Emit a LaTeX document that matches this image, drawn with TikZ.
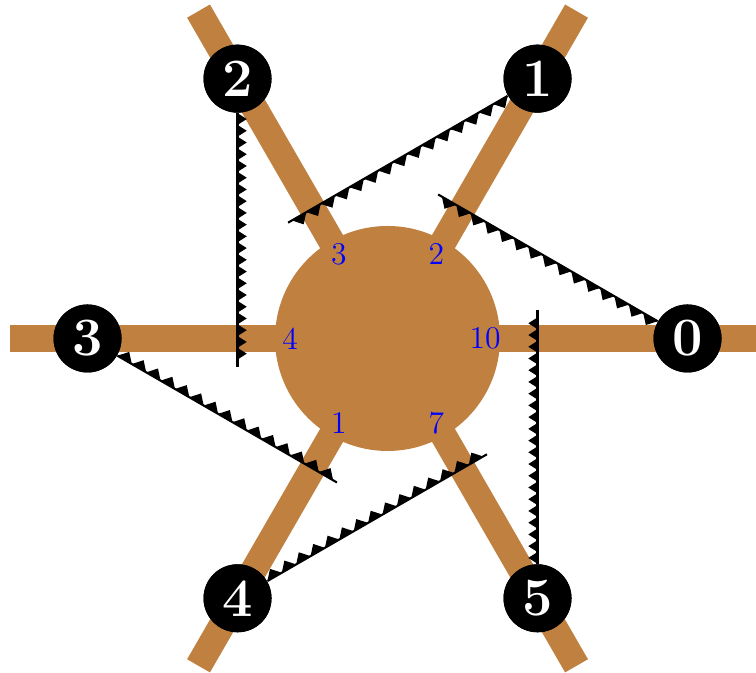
\documentclass[tikz,border=0pt]{standalone}
\usetikzlibrary{decorations}
\pgfdeclaredecoration{toothrow}{initial}{
  \state{initial}[width=\pgfdecorationsegmentlength]{
    \pgfpathlineto{\pgfpoint{0.5\pgfdecorationsegmentlength}{\pgfdecorationsegmentamplitude}}
    \pgfpathlineto{\pgfpoint{\pgfdecorationsegmentlength}{0pt}}
  }
  \state{final}{\pgfpathlineto{\pgfpointdecoratedpathlast}}
}
\begin{document}
\begin{tikzpicture}
\tikzset{
  spoke/.style={draw=brown, line width=10pt},
  hub/.style={circle, fill=brown, minimum size=3cm, inner sep=0pt},
  poslabel/.style={text=blue, font=\large, inner sep=0pt},
  station/.style={circle, fill=black, text=white, minimum size=25.8pt, inner sep=0pt,
    font=\fontsize{20.5}{24}\selectfont\bfseries},
  sawline/.style={draw=black, line width=0.8pt},
  sawteeth/.style={fill=black, decorate,
    decoration={toothrow, segment length=#1, amplitude=3.5pt}},
}
\useasboundingbox (-5.167,-4.46) rectangle (4.913,4.513);
\clip (-5.167,-4.46) rectangle (4.913,4.513);
% hub and spokes
\node[hub] (hub) at (0,0) {};
\foreach \i in {0,...,5}{
  \coordinate (s\i) at (60*\i:5.04);
  \draw[spoke] (hub.center) -- (s\i);
}
% labels inside hub
\node[poslabel] (l0) at (0:1.3) {10};
\node[poslabel] (l1) at (60:1.3) {2};
\node[poslabel] (l2) at (120:1.3) {3};
\node[poslabel] (l3) at (180:1.3) {4};
\node[poslabel] (l4) at (240:1.3) {1};
\node[poslabel] (l5) at (300:1.3) {7};
% stations
\foreach \i in {0,...,5}{
  \node[station] (n\i) at (60*\i:4) {\i};
  \path (n\i.center) ++(60*\i+150:3.84) coordinate (e\i);
}
% toothed lines
\foreach \i/\sl in {0/6.3pt,1/6.3pt,2/4.45pt,3/6.3pt,4/6.3pt,5/4.45pt}{
  \draw[sawline] (n\i) -- (e\i);
  \path[sawteeth=\sl] (n\i) -- (e\i);
}
% stations on top
\foreach \i in {0,...,5}{
  \node[station] at (n\i.center) {\i};
}
\end{tikzpicture}
\end{document}
